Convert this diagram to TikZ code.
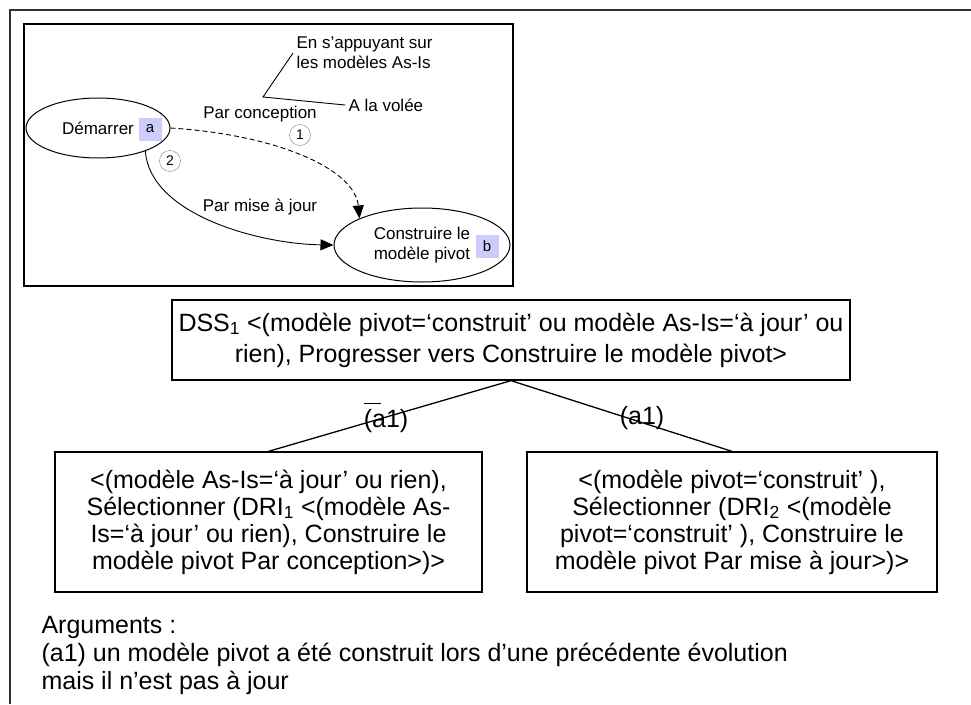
\documentclass[tikz,border=0pt]{standalone}
\usepackage{fontspec}
\setmainfont{Liberation Sans}
\usepackage{xcolor}
\definecolor{TagBlue}{HTML}{CCCCFF}
\definecolor{FrameGray}{HTML}{303030}
\usetikzlibrary{arrows.meta, shapes.geometric}

\begin{document}
\begin{tikzpicture}[x=1pt, y=-1pt,
  small/.style={font=\fontsize{17}{20}\selectfont},
  big/.style={font=\fontsize{25}{28}\selectfont},
  state/.style={draw, ellipse, line width=1pt, inner sep=0pt},
  tag/.style={fill=TagBlue, minimum size=23pt, inner sep=0pt, font=\fontsize{15}{15}\selectfont},
  num/.style={draw=gray, circle, minimum size=21pt, inner sep=0pt, font=\fontsize{14}{14}\selectfont},
  sect/.style={draw, line width=1.3pt, inner sep=0pt, align=center},
  flow/.style={-{Triangle[length=13pt,width=11pt]}, line width=0.9pt}]
  \useasboundingbox (0,0) rectangle (971,704);
  \draw[line width=1.6pt, FrameGray] (10,704) -- (10,10) -- (971,10);
  \draw[line width=2pt] (24,24) rectangle (513,286);

  % map of the section
  \node[state, small, minimum width=144pt, minimum height=60pt] (dem) at (98,128) {D\'emarrer\hspace{32pt}};
  \node[state, small, align=center, minimum width=176pt, minimum height=74pt] (con) at (422,245) {Construire le\\mod\`ele pivot};
  \node[tag] (taga) at (150,129) {a};
  \node[tag] (tagb) at (487,246) {b};
  \node[small] (lconc) at (260,114) {Par conception};
  \node[small] (lmaj) at (260,207) {Par mise \`a jour};
  \node[num] (n1) at (300,135) {1};
  \node[num] (n2) at (170,161) {2};
  \draw[flow, dash pattern=on 5pt off 3pt] (dem.east) .. controls (280,135) and (355,170) .. (con.157);
  \draw[flow] (dem.-26) .. controls (150,215) and (260,244) .. (con.west);
  \node[small, align=left, anchor=west] (ens) at (293,53) {En s’appuyant sur\\les mod\`eles As-Is};
  \node[small, anchor=west] (vol) at (345,105) {A la vol\'ee};
  \coordinate (kink) at (263,97);
  \draw[line width=0.9pt] (ens.west) -- (kink) -- (vol.west);

  % decomposition
  \node[sect, big, font=\fontsize{25}{31}\selectfont, minimum width=678pt, minimum height=80pt] (dss) at (511,340)
    {DSS\textsubscript{1} <(mod\`ele pivot=‘construit’ ou mod\`ele As-Is=‘\`a jour’ ou\\rien), Progresser vers Construire le mod\`ele pivot>};
  \node[sect, big, font=\fontsize{25}{27}\selectfont, minimum width=427pt, minimum height=140pt] (dri1) at (268.5,522)
    {<(mod\`ele As-Is=‘\`a jour’ ou rien),\\S\'electionner (DRI\textsubscript{1} <(mod\`ele As-\\Is=‘\`a jour’ ou rien), Construire le\\mod\`ele pivot Par conception>)>};
  \node[sect, big, font=\fontsize{25}{27}\selectfont, minimum width=410pt, minimum height=140pt] (dri2) at (732,522)
    {<(mod\`ele pivot=‘construit’ ),\\S\'electionner (DRI\textsubscript{2} <(mod\`ele\\pivot=‘construit’ ), Construire le\\mod\`ele pivot Par mise \`a jour>)>};
  \draw[line width=1.3pt] (dss.south) -- (dri1.north);
  \draw[line width=1.3pt] (dss.south) -- (dri2.north);
  \node[big] (na1) at (386,418) {\rlap{\rule[0.95em]{0.7em}{1pt}}(a1)};
  \node[big] (pa1) at (642,418) {(a1)};

  \node[big, align=left, anchor=west] (args) at (38,655)
    {Arguments :\\(a1) un mod\`ele pivot a \'et\'e construit lors d’une pr\'ec\'edente \'evolution\\mais il n’est pas \`a jour};
\end{tikzpicture}
\end{document}
